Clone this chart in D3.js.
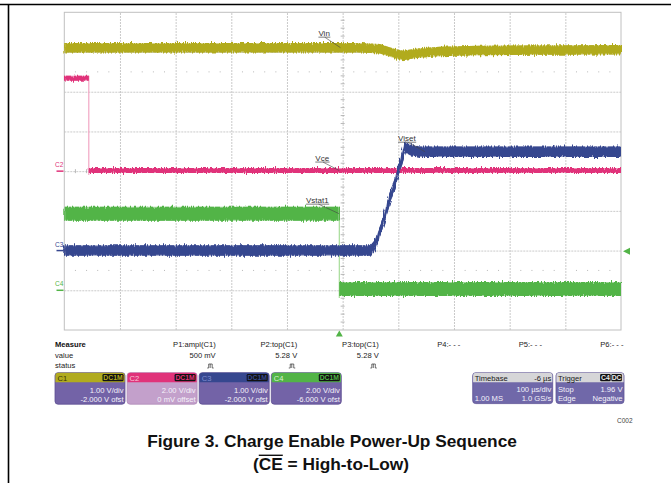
<!DOCTYPE html>
<html><head><meta charset="utf-8">
<script src="https://cdn.jsdelivr.net/npm/d3@7/dist/d3.min.js"></script>
<style>
body{margin:0;background:#fff;}
svg{display:block;font-family:"Liberation Sans",Arial,Helvetica,sans-serif;}
</style>
</head><body>
<svg id="chart" width="671" height="483"></svg>
<script>
// ---------------- data ----------------
const channels = ["C1", "C2", "C3", "C4"];
const channelColors = ["#b1ab1f", "#e0337a", "#36478f", "#52b447"];
const stepColors = ["#d8d480", "#f2a6c4", "#8a96c8", "#a6dc98"];
const voltsPerDiv = [1, 2, 1, 2];
const offsets = [-2, 0, -2, -6];
const timePerDiv = 100;      // µs/div
const timeDelay = -6;        // µs (trigger position)

// C1 : Vin
const tVin = [-494, 40, 73, 90, 113, 140, 180, 250, 506];
const vVin = [5.11, 5.11, 5.08, 5.0, 4.91, 4.97, 5.01, 5.04, 5.06];
// C2 : Vce
const tVce = [-494, -450, -450, 506];
const vVce = [4.68, 4.68, 0.03, 0.03];
// C3 : Viset
const tViset = [-494, 56, 62, 70, 78, 88, 103, 118, 127, 145, 506];
const vViset = [0.0, 0.0, 0.1, 0.35, 0.7, 1.19, 1.86, 2.63, 2.53, 2.49, 2.49];
// C4 : Vstat1
const tVstat = [-494, 0, 0, 506];
const vVstat = [3.86, 3.86, 0.06, 0.06];

const traceNames = ["Vin", "Vce", "Viset", "Vstat1"];
const labelTimes = [2, 0, 154, -0.5];
const triggerLevel = 1.96;   // V on C4
const triggerChannel = 3;

const measureNames = ["P1:ampl(C1)", "P2:top(C1)", "P3:top(C1)", "P4:- - -", "P5:- - -", "P6:- - -"];
const measureValues = ["500 mV", "5.28 V", "5.28 V", "", "", ""];
const measureStatus = [true, true, true, false, false, false];

const chScaleLabels = ["1.00 V/div", "2.00 V/div", "1.00 V/div", "2.00 V/div"];
const chOffsetLabels = ["-2.000 V ofst", "0 mV offset", "-2.000 V ofst", "-6.000 V ofst"];
const couplingLabel = "DC1M";

const timebaseRows = [["Timebase", "-6 µs"], ["", "100 µs/div"], ["1.00 MS", "1.0 GS/s"]];
const triggerRows = [["Trigger", ""], ["Stop", "1.96 V"], ["Edge", "Negative"]];
const triggerBadges = ["C4", "DC"];

const titleLine1 = "Figure 3. Charge Enable Power-Up Sequence";
const figCode = "C002";

// ---------------- layout ----------------
const svg = d3.select("#chart");
const P = {left: 64.3, right: 621, top: 12.3, bottom: 330};

const divX = d3.scaleLinear().domain([-5, 5]).range([P.left, P.right]);
const divY = d3.scaleLinear().domain([-4, 4]).range([P.bottom, P.top]);
// trigger (t = 0) sits |timeDelay| left of the screen centre
const xT = t => divX((t + timeDelay) / timePerDiv);
const yCh = (ch, v) => divY((v + offsets[ch]) / voltsPerDiv[ch]);

svg.append("rect").attr("width", 671).attr("height", 483).attr("fill", "#fff");

// filter for scope noise texture
const defs = svg.append("defs");
const f = defs.append("filter").attr("id", "noise")
  .attr("x", "-2%").attr("y", "-80%").attr("width", "104%").attr("height", "260%");
f.append("feTurbulence").attr("type", "fractalNoise").attr("baseFrequency", "1.1 0.04")
  .attr("numOctaves", 2).attr("seed", 4).attr("result", "turb");
f.append("feDisplacementMap").attr("in", "SourceGraphic").attr("in2", "turb")
  .attr("scale", 6).attr("xChannelSelector", "R").attr("yChannelSelector", "G");

// outer frame
svg.append("line").attr("x1", 0).attr("x2", 671).attr("y1", 4.5).attr("y2", 4.5)
  .attr("stroke", "#000").attr("stroke-width", 1.6);
svg.append("line").attr("x1", 8.5).attr("x2", 8.5).attr("y1", 4).attr("y2", 483)
  .attr("stroke", "#000").attr("stroke-width", 1.6);

// grid
const grid = svg.append("g");
grid.append("g").attr("transform", `translate(0,${P.bottom})`)
  .call(d3.axisBottom(divX).tickValues(d3.range(-4, 5)).tickSize(-(P.bottom - P.top)).tickFormat(""))
  .call(g => g.select(".domain").remove())
  .call(g => g.selectAll("line").attr("stroke", "#c4c4c4").attr("stroke-dasharray", "2,1").attr("stroke-width", 0.9));
grid.append("g").attr("transform", `translate(${P.left},0)`)
  .call(d3.axisLeft(divY).tickValues(d3.range(-3, 4)).tickSize(-(P.right - P.left)).tickFormat(""))
  .call(g => g.select(".domain").remove())
  .call(g => g.selectAll("line").attr("stroke", "#c4c4c4").attr("stroke-dasharray", "2,1").attr("stroke-width", 0.9));
// dotted rows at +/-2.5 div
[-2.5, 2.5].forEach(r => {
  grid.selectAll(null).data(d3.range(-4.8, 5, 0.2).filter(d => Math.abs(d - Math.round(d)) > 0.05))
    .join("rect").attr("x", d => divX(d) - 0.5).attr("y", divY(r) - 0.5).attr("width", 1).attr("height", 1)
    .attr("fill", "#b8b8b8");
});
// center ticks
grid.selectAll(null).data(d3.range(-3.8, 4, 0.2).filter(d => Math.abs(d - Math.round(d)) > 0.05))
  .join("line").attr("x1", divX(0) - 2).attr("x2", divX(0) + 2).attr("y1", d => divY(d)).attr("y2", d => divY(d))
  .attr("stroke", "#a8a8a8").attr("stroke-width", 0.8);
grid.selectAll(null).data(d3.range(-4.8, 5, 0.2).filter(d => Math.abs(d - Math.round(d)) > 0.05))
  .join("line").attr("y1", divY(0) - 2).attr("y2", divY(0) + 2).attr("x1", d => divX(d)).attr("x2", d => divX(d))
  .attr("stroke", "#a8a8a8").attr("stroke-width", 0.8);
grid.append("rect").attr("x", P.left).attr("y", P.top).attr("width", P.right - P.left).attr("height", P.bottom - P.top)
  .attr("fill", "none").attr("stroke", "#c0c0c0").attr("stroke-width", 1);

// traces
const bands = [9.5, 5, 10.5, 14];
function drawTrace(ch, times, values) {
  const g = svg.append("g");
  const segs = [[]], steps = [];
  times.forEach((t, i) => {
    if (i > 0 && t === times[i - 1]) { steps.push([i - 1, i]); segs.push([]); }
    segs[segs.length - 1].push(i);
  });
  const h = bands[ch] / 2;
  steps.forEach(([a, b]) => {
    const y0 = yCh(ch, values[a]), y1 = yCh(ch, values[b]);
    const s = Math.sign(y1 - y0);
    g.append("line").attr("x1", xT(times[a])).attr("x2", xT(times[b]))
      .attr("y1", y0 - s * h).attr("y2", y1 + s * (h + 2))
      .attr("stroke", stepColors[ch]).attr("stroke-width", 1.2);
  });
  const area = d3.area().x(i => xT(times[i]))
    .y0(i => yCh(ch, values[i]) - h).y1(i => yCh(ch, values[i]) + h);
  const line = d3.line().x(i => xT(times[i])).y(i => yCh(ch, values[i]));
  segs.forEach(sg => {
    g.append("path").attr("d", area(sg)).attr("fill", channelColors[ch]).attr("filter", "url(#noise)");
    g.append("path").attr("d", area(sg)).attr("fill", channelColors[ch]).attr("opacity", 0.55);
    g.append("path").attr("d", line(sg)).attr("fill", "none").attr("stroke", channelColors[ch])
      .attr("stroke-width", 3.2).attr("filter", "url(#noise)");
  });
}
drawTrace(0, tVin, vVin);
drawTrace(1, tVce, vVce);
drawTrace(3, tVstat, vVstat);
drawTrace(2, tViset, vViset);

// trace labels
const traceData = [[tVin, vVin], [tVce, vVce], [tViset, vViset], [tVstat, vVstat]];
const labelOffsets = [[-22, -12], [-24, -10], [-27, -11], [-33, -11]];
function valueAt(ts, vs, tt) {
  for (let i = 1; i < ts.length; i++) {
    if (tt <= ts[i]) {
      if (ts[i] === ts[i - 1]) return vs[i - 1];
      const k = (tt - ts[i - 1]) / (ts[i] - ts[i - 1]); return vs[i - 1] + k * (vs[i] - vs[i - 1]);
    }
  }
  return vs[vs.length - 1];
}
traceNames.forEach((name, ch) => {
  const [ts, vs] = traceData[ch];
  const tt = labelTimes[ch];
  const v = valueAt(ts, vs, tt);
  const ex = xT(tt), ey = yCh(ch, v);
  const [dx, dy] = labelOffsets[ch];
  const txt = svg.append("text").attr("x", ex + dx).attr("y", ey + dy)
    .attr("font-size", 8).attr("fill", "#333").text(name);
  const w = txt.node().getComputedTextLength();
  svg.append("line").attr("x1", ex + dx).attr("x2", ex + dx + w + 0.5).attr("y1", ey + dy + 1.5).attr("y2", ey + dy + 1.5)
    .attr("stroke", "#444").attr("stroke-width", 0.7);
  svg.append("line").attr("x1", ex + dx + w * 0.55).attr("y1", ey + dy + 1.5).attr("x2", ex).attr("y2", ey)
    .attr("stroke", "#444").attr("stroke-width", 0.6);
});

// channel ground markers (C2, C3, C4)
[1, 2, 3].forEach(ch => {
  const y0 = yCh(ch, 0);
  svg.append("text").attr("x", 55).attr("y", y0 - 4).attr("font-size", 6.5)
    .attr("fill", channelColors[ch]).text(channels[ch]);
  svg.append("line").attr("x1", 56.5).attr("x2", 63.5).attr("y1", y0).attr("y2", y0)
    .attr("stroke", channelColors[ch]).attr("stroke-width", 1.5);
});

// trigger markers
const ty = yCh(triggerChannel, triggerLevel);
svg.append("path").attr("d", `M${P.right + 2},${ty} l7,-3.5 v7 z`).attr("fill", channelColors[3]);
const tx = xT(0);
svg.append("path").attr("d", `M${tx},${P.bottom + 0.5} l-3.5,6 h7 z`).attr("fill", channelColors[3]);

// ---------------- measure panel ----------------
const fs = 7.6;
svg.append("text").attr("x", 55).attr("y", 346.8).attr("font-size", fs).attr("font-weight", "bold")
  .attr("fill", "#111").text("Measure");
svg.append("text").attr("x", 55).attr("y", 357.6).attr("font-size", fs).attr("fill", "#222").text("value");
svg.append("text").attr("x", 55).attr("y", 368.2).attr("font-size", fs).attr("fill", "#222").text("status");
const colRight = d3.scaleLinear().domain([0, 5]).range([215.7, 623.5]);
measureNames.forEach((m, i) => {
  svg.append("text").attr("x", colRight(i)).attr("y", 346.8).attr("text-anchor", "end")
    .attr("font-size", fs).attr("fill", "#222").text(m);
  if (measureValues[i]) svg.append("text").attr("x", colRight(i)).attr("y", 357.6).attr("text-anchor", "end")
    .attr("font-size", fs).attr("fill", "#222").text(measureValues[i]);
  if (measureStatus[i]) {
    const cx = colRight(i) - 5, cy = 366;
    svg.append("path").attr("d", `M${cx - 3.5},${cy + 2} h1.5 v-4 h3.5 v4 h1.5 M${cx - 0.5},${cy - 2} v4`)
      .attr("fill", "none").attr("stroke", "#333").attr("stroke-width", 0.7);
  }
});

// channel boxes
const boxTop = 372.7, headH = 9.6, boxH = 31.5;
const boxX = d3.scaleLinear().domain([0, 1]).range([55, 127.1]);
const bodyFill = ["#7363a7", "#c3a0cb", "#7363a7", "#7363a7"];
const headText = ["#3a3606", "#f7c4d8", "#7d8cd0", "#d9f2d2"];
channels.forEach((c, i) => {
  const bx = boxX(i), bw = 70;
  const g = svg.append("g");
  g.append("rect").attr("x", bx).attr("y", boxTop).attr("width", bw).attr("height", boxH).attr("rx", 3)
    .attr("fill", bodyFill[i]).attr("stroke", i === 1 ? "#b08cb8" : "#5d4f92").attr("stroke-width", 0.8);
  g.append("path").attr("d", `M${bx + 0.4},${boxTop + headH} v${-headH + 3} q0,-3 3,-3 h${bw - 6.8} q3,0 3,3 v${headH - 3} z`)
    .attr("fill", channelColors[i]);
  g.append("text").attr("x", bx + 2.5).attr("y", boxTop + 7.8).attr("font-size", fs).attr("fill", headText[i]).text(c);
  g.append("rect").attr("x", bx + bw - 22.5).attr("y", boxTop + 1.3).attr("width", 21).attr("height", 7.2).attr("rx", 1.2)
    .attr("fill", "#111");
  g.append("text").attr("x", bx + bw - 12).attr("y", boxTop + 7.6).attr("text-anchor", "middle").attr("font-size", 6.8)
    .attr("font-weight", "bold").attr("fill", channelColors[i]).text(couplingLabel);
  g.append("text").attr("x", bx + bw - 1.5).attr("y", boxTop + 20.2).attr("text-anchor", "end").attr("font-size", fs)
    .attr("fill", "#f4f2fa").text(chScaleLabels[i]);
  g.append("text").attr("x", bx + bw - 1.5).attr("y", boxTop + 29).attr("text-anchor", "end").attr("font-size", fs)
    .attr("fill", "#f4f2fa").text(chOffsetLabels[i]);
});

// timebase & trigger boxes
function infoBox(bx, bw, rows, badges) {
  const g = svg.append("g");
  g.append("rect").attr("x", bx).attr("y", boxTop).attr("width", bw).attr("height", boxH - 0.6).attr("rx", 3)
    .attr("fill", "#7068a9").attr("stroke", "#5d5396").attr("stroke-width", 0.8);
  g.append("path").attr("d", `M${bx + 0.4},${boxTop + headH} v${-headH + 3} q0,-3 3,-3 h${bw - 6.8} q3,0 3,3 v${headH - 3} z`)
    .attr("fill", "#d6d6d8");
  rows.forEach((r, j) => {
    const yy = boxTop + [7.8, 19.6, 28.6][j];
    const col = j === 0 ? "#1a1a1a" : "#f4f2fa";
    if (r[0]) g.append("text").attr("x", bx + 2).attr("y", yy).attr("font-size", fs).attr("fill", col).text(r[0]);
    if (r[1]) g.append("text").attr("x", bx + bw - 1.5).attr("y", yy).attr("text-anchor", "end")
      .attr("font-size", fs).attr("fill", col).text(r[1]);
  });
  if (badges) {
    badges.slice().reverse().forEach((b, k) => {
      const rx = bx + bw - 1.5 - (k + 1) * 11.2;
      g.append("rect").attr("x", rx).attr("y", boxTop + 1.3).attr("width", 10.6).attr("height", 7.2).attr("rx", 1.2).attr("fill", "#111");
      g.append("text").attr("x", rx + 5.3).attr("y", boxTop + 7.6).attr("text-anchor", "middle").attr("font-size", 6.8)
        .attr("font-weight", "bold").attr("fill", "#e8e8e8").text(b);
    });
  }
}
infoBox(472.7, 80, timebaseRows, null);
infoBox(556, 68, triggerRows, triggerBadges);

svg.append("text").attr("x", 617).attr("y", 422.5).attr("font-size", 6.5).attr("fill", "#444").text(figCode);

// title
const tfs = 17.3;
svg.append("text").attr("x", 332).attr("y", 446.5).attr("text-anchor", "middle")
  .attr("font-size", tfs).attr("font-weight", "bold").attr("fill", "#111").text(titleLine1);
const l2y = 469.5;
const t2 = svg.append("text").attr("x", 331).attr("y", l2y).attr("text-anchor", "middle")
  .attr("font-size", tfs).attr("font-weight", "bold").attr("fill", "#111");
t2.append("tspan").text("(");
t2.append("tspan").text("CE");
t2.append("tspan").text(" = High-to-Low)");
// overline for CE
const full = t2.node();
const startX = full.getStartPositionOfChar(1).x, endX = full.getEndPositionOfChar(2).x;
svg.append("line").attr("x1", startX).attr("x2", endX).attr("y1", l2y - 14.2).attr("y2", l2y - 14.2)
  .attr("stroke", "#111").attr("stroke-width", 1.4);
</script>
</body></html>
